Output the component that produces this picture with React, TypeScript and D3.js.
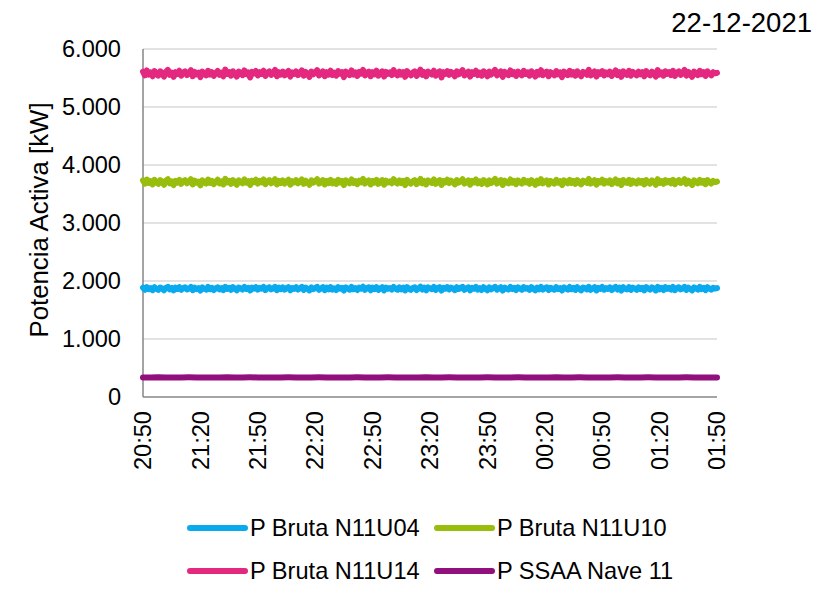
import React from "react";
import * as d3 from "d3";

// Time axis: 20:50 on 22-12-2021 to 01:50 next day, labels every 30 minutes
const tickLabels = ["20:50", "21:20", "21:50", "22:20", "22:50", "23:20", "23:50", "00:20", "00:50", "01:20", "01:50"];
const spanMinutes = 300;

const yTicks = [0, 1000, 2000, 3000, 4000, 5000, 6000];

// Active power [kW], one sample per minute from 20:50 to 01:50
const pN11U14 = [
  5610, 5545, 5630, 5560, 5595, 5530, 5620, 5575, 5540, 5615, 5585, 5525, 5605, 5640, 5555, 5590, 5520, 5600, 5570, 5625,
  5540, 5595, 5615, 5550, 5580, 5635, 5530, 5605, 5565, 5590, 5515, 5610, 5580, 5545, 5625, 5560, 5600, 5535, 5585, 5620,
  5555, 5590, 5530, 5645, 5570, 5600, 5540, 5615, 5575, 5525, 5610, 5590, 5550, 5630, 5565, 5595, 5510, 5605, 5580, 5620,
  5545, 5600, 5570, 5625, 5535, 5590, 5615, 5555, 5580, 5640, 5530, 5600, 5560, 5610, 5545, 5590, 5620, 5525, 5595, 5570,
  5615, 5550, 5585, 5630, 5540, 5605, 5575, 5520, 5610, 5565, 5595, 5635, 5545, 5580, 5615, 5530, 5600, 5560, 5625, 5550,
  5590, 5540, 5620, 5575, 5600, 5515, 5610, 5585, 5550, 5630, 5560, 5595, 5535, 5605, 5575, 5640, 5545, 5590, 5610, 5530,
  5600, 5565, 5625, 5540, 5585, 5615, 5525, 5605, 5570, 5595, 5550, 5635, 5580, 5545, 5610, 5560, 5600, 5520, 5620, 5575,
  5545, 5595, 5615, 5535, 5580, 5645, 5555, 5600, 5530, 5610, 5585, 5560, 5625, 5540, 5590, 5615, 5510, 5600, 5570, 5620,
  5555, 5605, 5580, 5530, 5615, 5565, 5595, 5635, 5545, 5580, 5610, 5525, 5600, 5570, 5625, 5550, 5590, 5540, 5615, 5585,
  5530, 5610, 5560, 5595, 5640, 5545, 5585, 5615, 5520, 5605, 5575, 5550, 5630, 5565, 5600, 5535, 5610, 5580, 5545, 5625,
  5570, 5595, 5540, 5615, 5580, 5525, 5605, 5560, 5635, 5550, 5590, 5610, 5530, 5600, 5575, 5545, 5620, 5565, 5595, 5515,
  5610, 5585, 5550, 5625, 5560, 5600, 5540, 5615, 5575, 5530, 5605, 5590, 5555, 5640, 5545, 5580, 5615, 5525, 5600, 5570,
  5620, 5545, 5595, 5565, 5610, 5535, 5585, 5630, 5550, 5600, 5520, 5615, 5575, 5555, 5625, 5540, 5605, 5580, 5545, 5610,
  5565, 5600, 5530, 5620, 5575, 5545, 5610, 5585, 5525, 5635, 5560, 5595, 5540, 5615, 5570, 5600, 5550, 5625, 5535, 5590,
  5615, 5555, 5580, 5640, 5540, 5605, 5570, 5520, 5610, 5585, 5550, 5625, 5565, 5600, 5535, 5615, 5575, 5545, 5600, 5580,
  5590,
];
const pN11U10 = [
  3735, 3680, 3750, 3690, 3720, 3665, 3745, 3700, 3675, 3740, 3710, 3660, 3730, 3755, 3685, 3715, 3655, 3725, 3695, 3745,
  3675, 3720, 3740, 3685, 3705, 3755, 3665, 3730, 3695, 3715, 3650, 3735, 3705, 3680, 3750, 3690, 3725, 3670, 3710, 3745,
  3685, 3715, 3665, 3760, 3700, 3725, 3675, 3740, 3705, 3660, 3735, 3715, 3685, 3750, 3695, 3720, 3655, 3730, 3705, 3745,
  3680, 3725, 3700, 3750, 3670, 3715, 3740, 3685, 3705, 3755, 3665, 3725, 3690, 3735, 3680, 3715, 3745, 3660, 3720, 3700,
  3740, 3685, 3710, 3750, 3675, 3730, 3700, 3660, 3735, 3695, 3720, 3755, 3680, 3705, 3740, 3665, 3725, 3690, 3745, 3685,
  3715, 3675, 3745, 3700, 3725, 3655, 3735, 3710, 3685, 3750, 3690, 3720, 3670, 3730, 3700, 3760, 3680, 3715, 3735, 3665,
  3725, 3695, 3745, 3675, 3710, 3740, 3660, 3730, 3700, 3720, 3685, 3755, 3705, 3680, 3735, 3690, 3725, 3655, 3745, 3700,
  3680, 3720, 3740, 3670, 3705, 3760, 3685, 3725, 3665, 3735, 3710, 3690, 3750, 3675, 3715, 3740, 3655, 3725, 3700, 3745,
  3690, 3730, 3705, 3665, 3740, 3695, 3720, 3755, 3680, 3705, 3735, 3660, 3725, 3700, 3750, 3685, 3715, 3675, 3740, 3710,
  3665, 3735, 3690, 3720, 3760, 3680, 3710, 3740, 3655, 3730, 3700, 3685, 3750, 3695, 3725, 3670, 3735, 3705, 3680, 3745,
  3700, 3720, 3675, 3740, 3705, 3660, 3730, 3690, 3755, 3685, 3715, 3735, 3665, 3725, 3700, 3680, 3745, 3695, 3720, 3655,
  3735, 3710, 3685, 3745, 3690, 3725, 3675, 3740, 3700, 3665, 3730, 3715, 3690, 3760, 3680, 3705, 3740, 3660, 3725, 3700,
  3745, 3680, 3720, 3695, 3735, 3670, 3710, 3750, 3685, 3725, 3655, 3740, 3700, 3690, 3745, 3675, 3730, 3705, 3680, 3735,
  3695, 3725, 3665, 3740, 3700, 3680, 3735, 3710, 3660, 3755, 3690, 3720, 3675, 3740, 3700, 3725, 3685, 3745, 3670, 3715,
  3740, 3690, 3705, 3755, 3675, 3730, 3700, 3655, 3735, 3710, 3685, 3745, 3695, 3725, 3670, 3740, 3705, 3680, 3725, 3705,
  3715,
];
const pN11U04 = [
  1885, 1850, 1895, 1858, 1878, 1842, 1892, 1865, 1848, 1888, 1872, 1840, 1883, 1898, 1855, 1880, 1838, 1886, 1862, 1894,
  1848, 1878, 1890, 1855, 1870, 1897, 1843, 1885, 1860, 1876, 1836, 1890, 1868, 1850, 1896, 1858, 1882, 1845, 1873, 1892,
  1855, 1877, 1842, 1900, 1864, 1884, 1847, 1893, 1868, 1840, 1888, 1875, 1853, 1897, 1861, 1880, 1837, 1886, 1866, 1894,
  1850, 1882, 1866, 1896, 1844, 1876, 1891, 1856, 1870, 1899, 1842, 1884, 1858, 1890, 1850, 1876, 1894, 1840, 1880, 1863,
  1892, 1853, 1873, 1897, 1846, 1886, 1866, 1838, 1890, 1860, 1878, 1898, 1849, 1870, 1893, 1842, 1884, 1857, 1895, 1851,
  1875, 1845, 1894, 1866, 1882, 1836, 1889, 1872, 1850, 1897, 1858, 1879, 1844, 1887, 1866, 1900, 1848, 1877, 1891, 1841,
  1884, 1860, 1895, 1846, 1873, 1893, 1839, 1887, 1865, 1880, 1852, 1898, 1869, 1849, 1890, 1857, 1883, 1837, 1895, 1866,
  1848, 1879, 1892, 1844, 1871, 1900, 1853, 1884, 1840, 1889, 1873, 1858, 1896, 1846, 1878, 1893, 1836, 1883, 1866, 1895,
  1855, 1887, 1870, 1842, 1892, 1862, 1880, 1899, 1849, 1872, 1890, 1839, 1884, 1866, 1896, 1852, 1877, 1845, 1893, 1871,
  1840, 1889, 1857, 1880, 1900, 1850, 1873, 1893, 1836, 1887, 1866, 1853, 1897, 1860, 1883, 1844, 1890, 1870, 1849, 1895,
  1866, 1879, 1846, 1892, 1870, 1838, 1886, 1857, 1898, 1852, 1876, 1891, 1843, 1884, 1866, 1850, 1895, 1861, 1879, 1837,
  1891, 1873, 1852, 1896, 1858, 1882, 1846, 1893, 1866, 1840, 1887, 1876, 1855, 1900, 1849, 1870, 1893, 1839, 1883, 1865,
  1896, 1850, 1878, 1861, 1891, 1843, 1872, 1898, 1853, 1884, 1836, 1893, 1866, 1855, 1895, 1846, 1886, 1870, 1849, 1890,
  1860, 1882, 1840, 1894, 1868, 1850, 1890, 1875, 1838, 1899, 1857, 1880, 1845, 1893, 1864, 1883, 1852, 1896, 1843, 1876,
  1892, 1855, 1871, 1898, 1847, 1886, 1863, 1837, 1890, 1874, 1851, 1896, 1860, 1882, 1843, 1893, 1868, 1849, 1884, 1870,
  1878,
];
const pSSAANave11 = [
  338, 337, 339, 338, 337, 338, 339, 338, 337, 338, 338, 339, 337, 338, 339, 338,
  337, 338, 338, 339, 338, 337, 338, 339, 338, 337, 338, 338, 339, 338, 337, 338,
  339, 338, 337, 338, 338, 339, 337, 338, 339, 338, 337, 338, 338, 339, 338, 337,
  338, 339, 338, 337, 338, 338, 339, 337, 338, 339, 338, 337, 338, 338, 339, 338,
  337, 338, 339, 338, 337, 338, 338, 339, 338, 337, 338, 338,
];

const seriesNames = ["P Bruta N11U04", "P Bruta N11U10", "P Bruta N11U14", "P SSAA Nave 11"];
const seriesColors = ["#0AAAEE", "#99BD0C", "#E5287F", "#920F7E"];
const seriesValues = [pN11U04, pN11U10, pN11U14, pSSAANave11];

const W = 821;
const H = 603;
const plot = { left: 143, right: 717, top: 49, bottom: 397 };
const FONT = "'Liberation Sans', Arial, sans-serif";
const FS = 23.6;
const LINE_W = 6;

export default function App() {
  const x = d3.scaleLinear().domain([0, spanMinutes]).range([plot.left, plot.right]);
  const y = d3.scaleLinear().domain([0, 6000]).range([plot.bottom, plot.top]);

  const makeLine = (vals: number[]) => {
    const step = spanMinutes / (vals.length - 1);
    return d3
      .line<number>()
      .x((_, i) => x(i * step))
      .y((v) => y(v))(vals) as string;
  };

  const tickStep = spanMinutes / (tickLabels.length - 1);
  const fmt = (t: number) => (t === 0 ? "0" : d3.format(",")(t).replace(",", "."));

  // Legend layout: two columns, two rows
  const legendCols = [190, 437];
  const legendRows = [528, 571];

  return (
    <div style={{ position: "absolute", left: 0, top: 0 }}>
      <svg width={W} height={H} style={{ display: "block", background: "#fff" }} fontFamily={FONT}>
        {/* horizontal gridlines */}
        {yTicks.slice(1).map((t) => (
          <line key={t} x1={plot.left} x2={plot.right} y1={y(t)} y2={y(t)} stroke="#D9D9D9" strokeWidth={1.5} />
        ))}
        {/* axes */}
        <line x1={plot.left} x2={plot.left} y1={plot.top} y2={plot.bottom} stroke="#868686" strokeWidth={1.5} />
        <line x1={plot.left} x2={plot.right} y1={plot.bottom} y2={plot.bottom} stroke="#868686" strokeWidth={1.5} />

        {/* y tick labels */}
        {yTicks.map((t) => (
          <text key={t} x={plot.left - 22} y={y(t)} dy="0.35em" textAnchor="end" fontSize={FS} fill="#000">
            {fmt(t)}
          </text>
        ))}

        {/* x tick labels, rotated */}
        {tickLabels.map((lab, i) => (
          <text
            key={lab + i}
            transform={`translate(${x(i * tickStep)},${plot.bottom + 14}) rotate(-90)`}
            textAnchor="end"
            dy="0.35em"
            fontSize={FS}
            fill="#000"
          >
            {lab}
          </text>
        ))}

        {/* y axis title */}
        <text transform={`translate(48,220) rotate(-90)`} textAnchor="middle" fontSize={25.8} fill="#000">
          Potencia Activa [kW]
        </text>

        {/* date */}
        <text x={812} y={32} textAnchor="end" fontSize={27.5} fill="#000">
          22-12-2021
        </text>

        {/* series */}
        {seriesValues.map((vals, i) => (
          <path
            key={seriesNames[i]}
            d={makeLine(vals)}
            fill="none"
            stroke={seriesColors[i]}
            strokeWidth={LINE_W}
            strokeLinejoin="round"
            strokeLinecap="round"
          />
        ))}

        {/* legend */}
        {seriesNames.map((name, k) => {
          const cx = legendCols[k % 2];
          const cy = legendRows[Math.floor(k / 2)];
          return (
            <g key={name}>
              <line x1={cx} x2={cx + 55} y1={cy} y2={cy} stroke={seriesColors[k]} strokeWidth={LINE_W} strokeLinecap="round" />
              <text x={cx + 60} y={cy} dy="0.35em" fontSize={FS} fill="#000">
                {name}
              </text>
            </g>
          );
        })}
      </svg>
    </div>
  );
}
